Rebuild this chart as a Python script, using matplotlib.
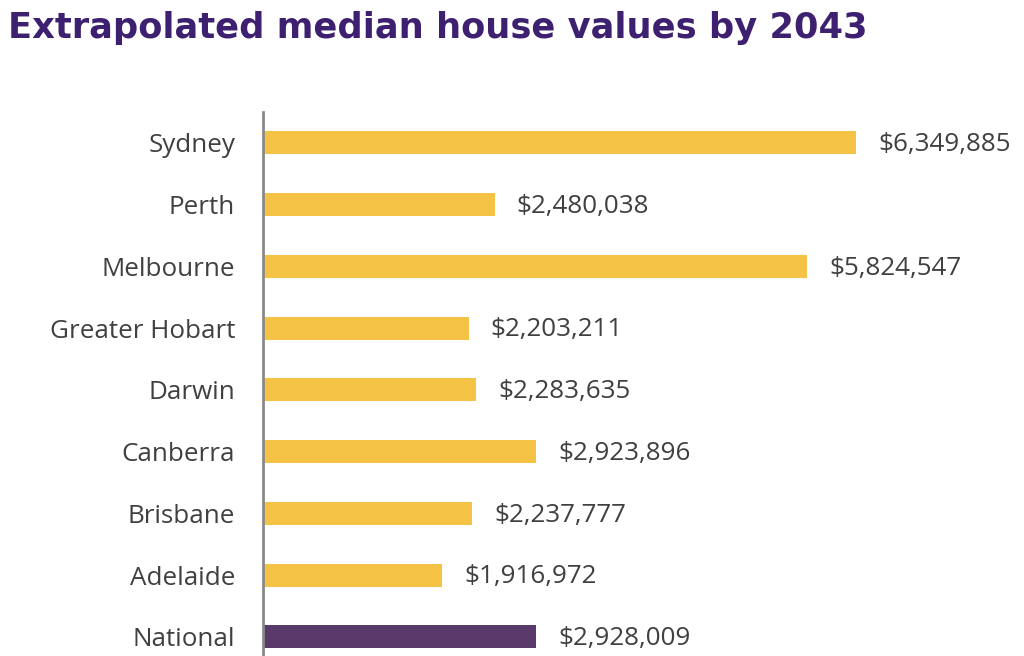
import matplotlib.pyplot as plt

cities = ['Sydney', 'Perth', 'Melbourne', 'Greater Hobart', 'Darwin',
          'Canberra', 'Brisbane', 'Adelaide', 'National']
values = [6349885, 2480038, 5824547, 2203211, 2283635,
          2923896, 2237777, 1916972, 2928009]
colors = ['#F4C244'] * 8 + ['#5A3A6B']

fig = plt.figure(figsize=(10.24, 6.56), dpi=100)
ax = fig.add_axes([263 / 1024, 0, 761 / 1024, (656 - 112) / 656])

ypos = list(range(len(cities)))
ax.barh(ypos, values, height=0.37, color=colors)
ax.set_ylim(8.31, -0.5)
ax.set_xlim(0, 761 / 593 * values[0])

for y, v in zip(ypos, values):
    ax.text(v + values[0] * 22 / 593, y + 0.03, f'${v:,}', va='center', ha='left',
            fontsize=18.7, color='#404040', family='Open Sans')

ax.set_yticks(ypos)
ax.set_yticklabels(cities, fontsize=18.7, color='#404040', family='Open Sans')
ax.tick_params(axis='y', length=0, pad=20)
ax.set_xticks([])
for s in ['top', 'right', 'bottom']:
    ax.spines[s].set_visible(False)
ax.spines['left'].set_color('#8a8a8a')
ax.spines['left'].set_linewidth(2)

fig.text(8 / 1024, 1 - 38 / 656, 'Extrapolated median house values by 2043',
         fontsize=25.4, fontweight='bold', color='#3D2070', family='DejaVu Sans')

fig.savefig('out.png', dpi=100)
